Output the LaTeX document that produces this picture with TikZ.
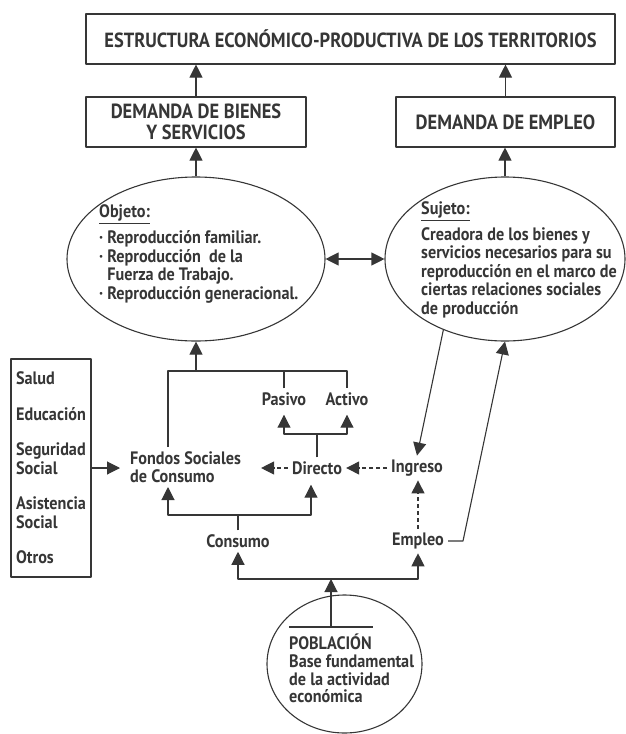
\documentclass[tikz,border=0pt]{standalone}
\usepackage{fontspec}
\setmainfont{PT Sans}[FakeStretch=0.9]
\usetikzlibrary{arrows.meta,shapes.geometric}
\definecolor{ink}{HTML}{363636}
\begin{document}
\begin{tikzpicture}[>={Triangle[width=13pt,length=13pt]},line join=bevel,x=1pt,y=-1pt,
  every node/.style={text=ink,inner sep=4pt,font=\bfseries\fontsize{18}{18.5}\selectfont},
  titlebox/.style={draw=ink,line width=1.1pt,minimum height=50pt,inner sep=0pt,align=center,font=\bfseries\fontsize{20.5}{21}\selectfont},
  oval/.style={draw=ink,line width=1.1pt,ellipse,inner sep=0pt},
  link/.style={draw=ink,line width=1.1pt},
  arr/.style={link,->},
  dasharr/.style={link,->,dash pattern=on 4pt off 3pt}]
\useasboundingbox (0,0) rectangle (626,734);
%%
\node (node_estructura) at (350.5,39) [titlebox,minimum width=529pt] {ESTRUCTURA ECONÓMICO-PRODUCTIVA DE LOS TERRITORIOS};
  \node (node_bienes) at (196,122) [titlebox,minimum width=220pt] {DEMANDA DE BIENES\\Y SERVICIOS};
  \node (node_demempleo) at (505.5,122) [titlebox,minimum width=219pt] {DEMANDA DE EMPLEO};
  \node (node_objeto) at (196,259) [oval,minimum width=258pt,minimum height=164pt] {};
  \node (node_sujeto) at (505,259) [oval,minimum width=240pt,minimum height=164pt] {};
  \node (text_objeto) at (95,254) [anchor=west,align=left] {\underline{Objeto:}\\[6pt]· Reproducción familiar.\\· Reproducción\ \ de la\\\hphantom{· }Fuerza de Trabajo.\\· Reproducción generacional.};
  \node (text_sujeto) at (417,260) [anchor=west,align=left] {\underline{Sujeto:}\\[6pt]Creadora de los bienes y\\servicios necesarios para su\\reproducción en el marco de\\ciertas relaciones sociales\\de producción};
  \node (node_servicios) at (51,468) [draw=ink,line width=1.1pt,minimum height=218pt,minimum width=80pt,align=left] {Salud\\[17pt]Educación\\[17pt]Seguridad\\Social\\[17pt]Asistencia\\Social\\[17pt]Otros};
  \node (node_fondos) at (126,467) [anchor=west,align=left] {Fondos Sociales\\de Consumo};
  \node (node_pasivo) at (284,399) {Pasivo};
  \node (node_activo) at (347,399) {Activo};
  \node (node_directo) at (317,468) {Directo};
  \node (node_ingreso) at (417,468) {Ingreso};
  \node (node_consumo) at (238,541) {Consumo};
  \node (node_empleo) at (418,541) {Empleo};
  \node (node_poblacion) at (344.5,664) [oval,minimum width=155pt,minimum height=138pt] {};
  \node (text_poblacion) at (285,668.5) [anchor=west,align=left,font=\bfseries\fontsize{18}{17.7}\selectfont] {POBLACIÓN\\Base fundamental\\de la actividad\\económica};
  \coordinate (join_objeto) at (196,371);
  \coordinate (join_directo) at (315,434);
  \coordinate (join_consumo) at (238,515);
  \coordinate (bend_empleo) at (463,541);
  \coordinate (join_poblacion) at (331,579);
  \coordinate (bar_poblacion) at (331,627);
  \draw [arr] (node_bienes.north) -- (node_estructura.south -| node_bienes.north);
  \draw [arr] (node_demempleo.north) -- (node_estructura.south -| node_demempleo.north);
  \draw [arr] (node_objeto.north) -- (node_bienes.south);
  \draw [arr] (node_sujeto.north) -- (node_sujeto.north |- node_demempleo.south);
  \draw [link,<->] (node_objeto.east) -- (node_sujeto.west);
  \draw [link] ([xshift=42pt]node_fondos.north west) |- (join_objeto) -| (node_activo.north);
  \draw [link] (node_pasivo.north) -- (node_pasivo.north |- join_objeto);
  \draw [arr] (join_objeto) -- (node_objeto.south);
  \draw [link] (node_directo.north) -- (node_directo.north |- join_directo);
  \draw [arr] (join_directo) -| ([yshift=-5pt]node_pasivo.south);
  \draw [arr] (join_directo) -| ([yshift=-5pt]node_activo.south);
  \draw [dasharr] (node_ingreso.west) -- (node_directo.east);
  \draw [dasharr,shorten >=16pt] (node_directo.west) -- (node_directo.west -| node_fondos.east);
  \draw [arr,shorten >=6pt] (node_servicios.east) -- (node_servicios.east -| node_fondos.west);
  \draw [link] (node_consumo.north) -- (join_consumo);
  \draw [arr] (join_consumo) -| ([xshift=42pt]node_fondos.south west);
  \draw [arr] (join_consumo) -| ([xshift=-6pt,yshift=-6pt]node_directo.south);
  \draw [dasharr] (node_empleo.north) -- (node_empleo.north |- node_ingreso.south);
  \draw [arr] (node_empleo.east) -- (bend_empleo) -- (node_sujeto.south);
  \draw [arr] (node_sujeto.229) -- (node_ingreso.north);
  \draw [arr] (join_poblacion) -| (node_consumo.south);
  \draw [arr] (join_poblacion) -| (node_empleo.south);
  \draw [arr] (bar_poblacion) -- (join_poblacion);
  \draw [link] ([xshift=-42pt]bar_poblacion) -- ([xshift=42pt]bar_poblacion);
%
\end{tikzpicture}
\end{document}
